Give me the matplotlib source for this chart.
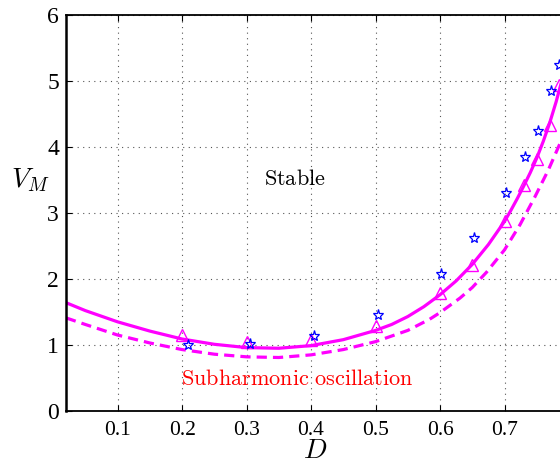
import matplotlib
matplotlib.use("Agg")
import matplotlib.pyplot as plt

plt.rcParams['mathtext.fontset'] = 'cm'
plt.rcParams['font.family'] = ['Liberation Serif', 'DejaVu Serif']

# Solid curve (boundary)
solid_D = [0.02, 0.05, 0.10, 0.15, 0.20, 0.25, 0.30, 0.35, 0.40, 0.45, 0.50, 0.525,
           0.55, 0.575, 0.60, 0.625, 0.65, 0.675, 0.70, 0.71, 0.72, 0.73, 0.74, 0.75,
           0.76, 0.77, 0.78, 0.79, 0.80]
solid_V = [1.64, 1.52, 1.35, 1.21, 1.09, 1.01, 0.96, 0.95, 0.99, 1.08, 1.22, 1.31,
           1.43, 1.58, 1.76, 1.97, 2.22, 2.52, 2.87, 3.04, 3.22, 3.41, 3.61, 3.83,
           4.08, 4.36, 4.68, 5.04, 5.44]

# Dashed curve
dash_D = [0.02, 0.05, 0.10, 0.15, 0.20, 0.25, 0.30, 0.35, 0.40, 0.45, 0.50, 0.55,
          0.584, 0.60, 0.631, 0.65, 0.672, 0.70, 0.724, 0.747, 0.768, 0.786, 0.80]
dash_V = [1.41, 1.31, 1.15, 1.03, 0.93, 0.86, 0.82, 0.81, 0.85, 0.93, 1.05, 1.22,
          1.39, 1.49, 1.71, 1.87, 2.10, 2.44, 2.82, 3.24, 3.65, 4.05, 4.38]

# Triangle markers
tri_D = [0.20, 0.30, 0.40, 0.50, 0.60, 0.65, 0.70, 0.73, 0.75, 0.77, 0.785]
tri_V = [1.15, 1.05, 1.07, 1.28, 1.78, 2.21, 2.88, 3.42, 3.81, 4.33, 4.94]

# Star markers
star_D = [0.209, 0.305, 0.405, 0.504, 0.601, 0.653, 0.702, 0.732, 0.752, 0.772, 0.784]
star_V = [1.00, 1.01, 1.14, 1.46, 2.07, 2.62, 3.30, 3.84, 4.24, 4.84, 5.24]

x_ticks = [0.1, 0.2, 0.3, 0.4, 0.5, 0.6, 0.7]
y_ticks = [0, 1, 2, 3, 4, 5, 6]

fig = plt.figure(figsize=(5.6, 4.63), dpi=100)
ax = fig.add_axes([66/560, 52/463, (569-66)/560, (411-14.7)/463])

ax.plot(solid_D, solid_V, color='#ff00ff', lw=2.3, solid_joinstyle='round')
ax.plot(dash_D, dash_V, color='#ff00ff', lw=2.3, linestyle=(0, (3.2, 1.9)))
ax.plot(tri_D, tri_V, linestyle='none', marker='^', ms=8.5, mfc='none',
        mec='#ff00ff', mew=1.0)
ax.plot(star_D, star_V, linestyle='none', marker='*', ms=8, mfc='none',
        mec='#0000ff', mew=0.9)

ax.set_xlim(0.02, 0.8)
ax.set_ylim(0, 6)
ax.set_xticks(x_ticks)
ax.set_xticklabels([f"{t:g}" for t in x_ticks])
ax.set_yticks(y_ticks)
ax.set_yticklabels([str(t) for t in y_ticks])
ax.tick_params(direction='in', length=4, width=0.8, labelsize=15.5,
               top=True, right=True, pad=7)
ax.tick_params(axis='y', labelsize=17, pad=5)
ax.grid(True, linestyle=(0, (1, 4)), color='#555555', lw=0.8)
for s in ax.spines.values():
    s.set_linewidth(1.3)
ax.spines['left'].set_linewidth(1.8)

ax.text(0.375, 3.5, r'$\mathrm{Stable}$', fontsize=16, ha='center', va='center',
        color='black')
ax.text(0.378, 0.47, r'$\mathrm{Subharmonic\ oscillation}$', fontsize=16,
        ha='center', va='center', color='#ff0000')

fig.text(30/560, 1 - 180/463, r'$V_M$', fontsize=20, ha='center', va='center')
fig.text(315/560, 1 - 452/463, r'$D$', fontsize=20, ha='center', va='center')

fig.savefig('out.png', dpi=100)
